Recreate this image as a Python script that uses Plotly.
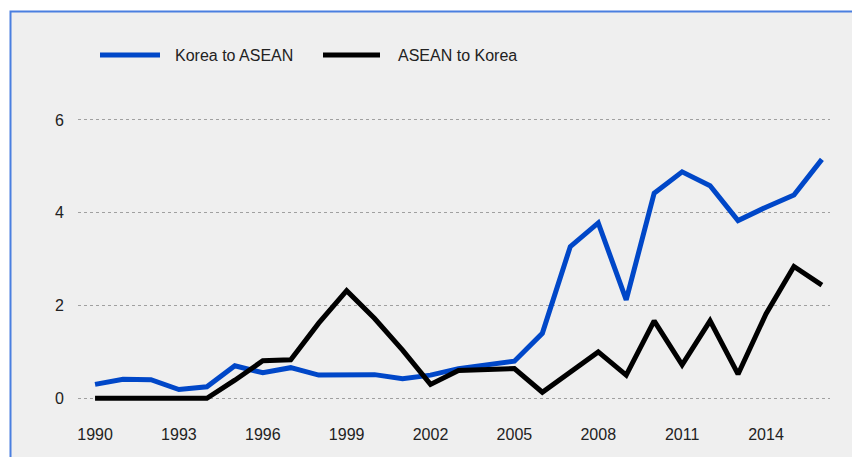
import plotly.graph_objects as go

years = list(range(1990, 2017))
korea_to_asean = [0.30, 0.41, 0.40, 0.19, 0.25, 0.70, 0.55, 0.66, 0.50, 0.50,
                  0.51, 0.42, 0.50, 0.64, 0.71, 0.80, 1.40, 3.27, 3.78, 2.12,
                  4.42, 4.88, 4.58, 3.83, 4.12, 4.38, 5.15]
asean_to_korea = [0.00, 0.00, 0.00, 0.00, 0.00, 0.39, 0.81, 0.83, 1.62, 2.32,
                  1.72, 1.04, 0.30, 0.60, 0.62, 0.64, 0.13, 0.58, 1.00, 0.50,
                  1.67, 0.72, 1.67, 0.52, 1.82, 2.84, 2.44]
x_ticks = [1990, 1993, 1996, 1999, 2002, 2005, 2008, 2011, 2014]
y_ticks = [0, 2, 4, 6]
series_names = ["Korea to ASEAN", "ASEAN to Korea"]
series_colors = ["#0047c8", "#000000"]

W, H = 852, 457
ML, MR, MT, MB = 78, 22, 106, 38
PW, PH = W - ML - MR, H - MT - MB

def px(x):
    return (x - ML) / PW

def py(y):
    return (H - MB - y) / PH

FONT = "Liberation Sans, Arial, sans-serif"

fig = go.Figure()
for name, vals, col in zip(series_names, [korea_to_asean, asean_to_korea], series_colors):
    fig.add_trace(go.Scatter(x=years, y=vals, mode="lines", name=name,
                             line=dict(color=col, width=5), showlegend=False))

shapes = [
    dict(type="rect", xref="paper", yref="paper", layer="below",
         x0=px(10.5), x1=px(950), y0=py(520), y1=py(11.5),
         fillcolor="#efefef", line=dict(color="#4a7fe0", width=2)),
]
annotations = []
legend_items = [(100, 160, 173), (323, 380, 396)]
for (lx0, lx1, tx), name, col in zip(legend_items, series_names, series_colors):
    shapes.append(dict(type="line", xref="paper", yref="paper",
                       x0=px(lx0), x1=px(lx1), y0=py(55), y1=py(55),
                       line=dict(color=col, width=5)))
    annotations.append(dict(xref="paper", yref="paper", x=px(tx), y=py(55),
                            text=name, showarrow=False, xanchor="left", yanchor="middle",
                            font=dict(family=FONT, size=16, color="#222222")))

fig.update_layout(
    width=W, height=H,
    margin=dict(l=ML, r=MR, t=MT, b=MB, pad=0),
    paper_bgcolor="white", plot_bgcolor="rgba(0,0,0,0)",
    shapes=shapes, annotations=annotations,
    font=dict(family=FONT, size=16, color="#222222"),
    xaxis=dict(range=[1989.39, 2016.29], tickvals=x_ticks, showgrid=False,
               zeroline=False, showline=False, ticks="", ticklabelstandoff=4),
    yaxis=dict(range=[-0.446, 6.3], tickvals=y_ticks, showgrid=True,
               gridcolor="#a0a0a0", griddash="dot", gridwidth=1,
               zeroline=False, showline=False, ticks="", ticklabelstandoff=13),
)

fig.write_html("out.html")
